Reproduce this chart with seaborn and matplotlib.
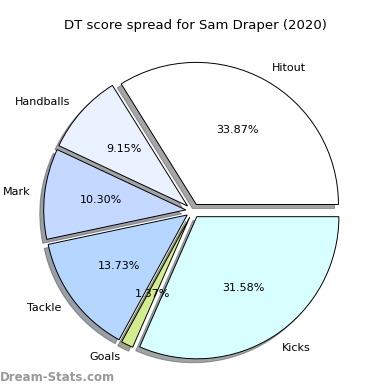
import matplotlib
matplotlib.use("Agg")
import matplotlib.pyplot as plt
import seaborn as sns

sns.set_style("white")
plt.rcParams['font.family'] = ['DejaVu Sans']
plt.rcParams['text.color'] = 'black'

labels = ["Hitout", "Handballs", "Mark", "Tackle", "Goals", "Kicks"]
values = [33.87, 9.15, 10.30, 13.73, 1.37, 31.58]
colors = ["#FFFFFF", "#EAF1FF", "#C5D8FF", "#B5D6FF", "#D3EC8F", "#D8FFFF"]
explode = [0.05] * len(values)

fig = plt.figure(figsize=(3.9, 3.9), dpi=100)
ax = fig.add_axes([0.033, 0.042, 0.915, 0.836])
ax.pie(
    values,
    labels=labels,
    colors=colors,
    explode=explode,
    autopct="%1.2f%%",
    shadow=True,
    startangle=0,
    wedgeprops={"edgecolor": "black", "linewidth": 0.7},
    textprops={"fontsize": 8, "color": "black"},
)
ax.axis("equal")
fig.suptitle("DT score spread for Sam Draper (2020)", fontsize=9.5, y=0.95,
             color="black")
fig.text(0.0, 0.015, "Dream-Stats.com", fontsize=8.5, color="#999999",
         fontweight="bold", ha="left", va="bottom")

fig.savefig("out.png", dpi=100)
